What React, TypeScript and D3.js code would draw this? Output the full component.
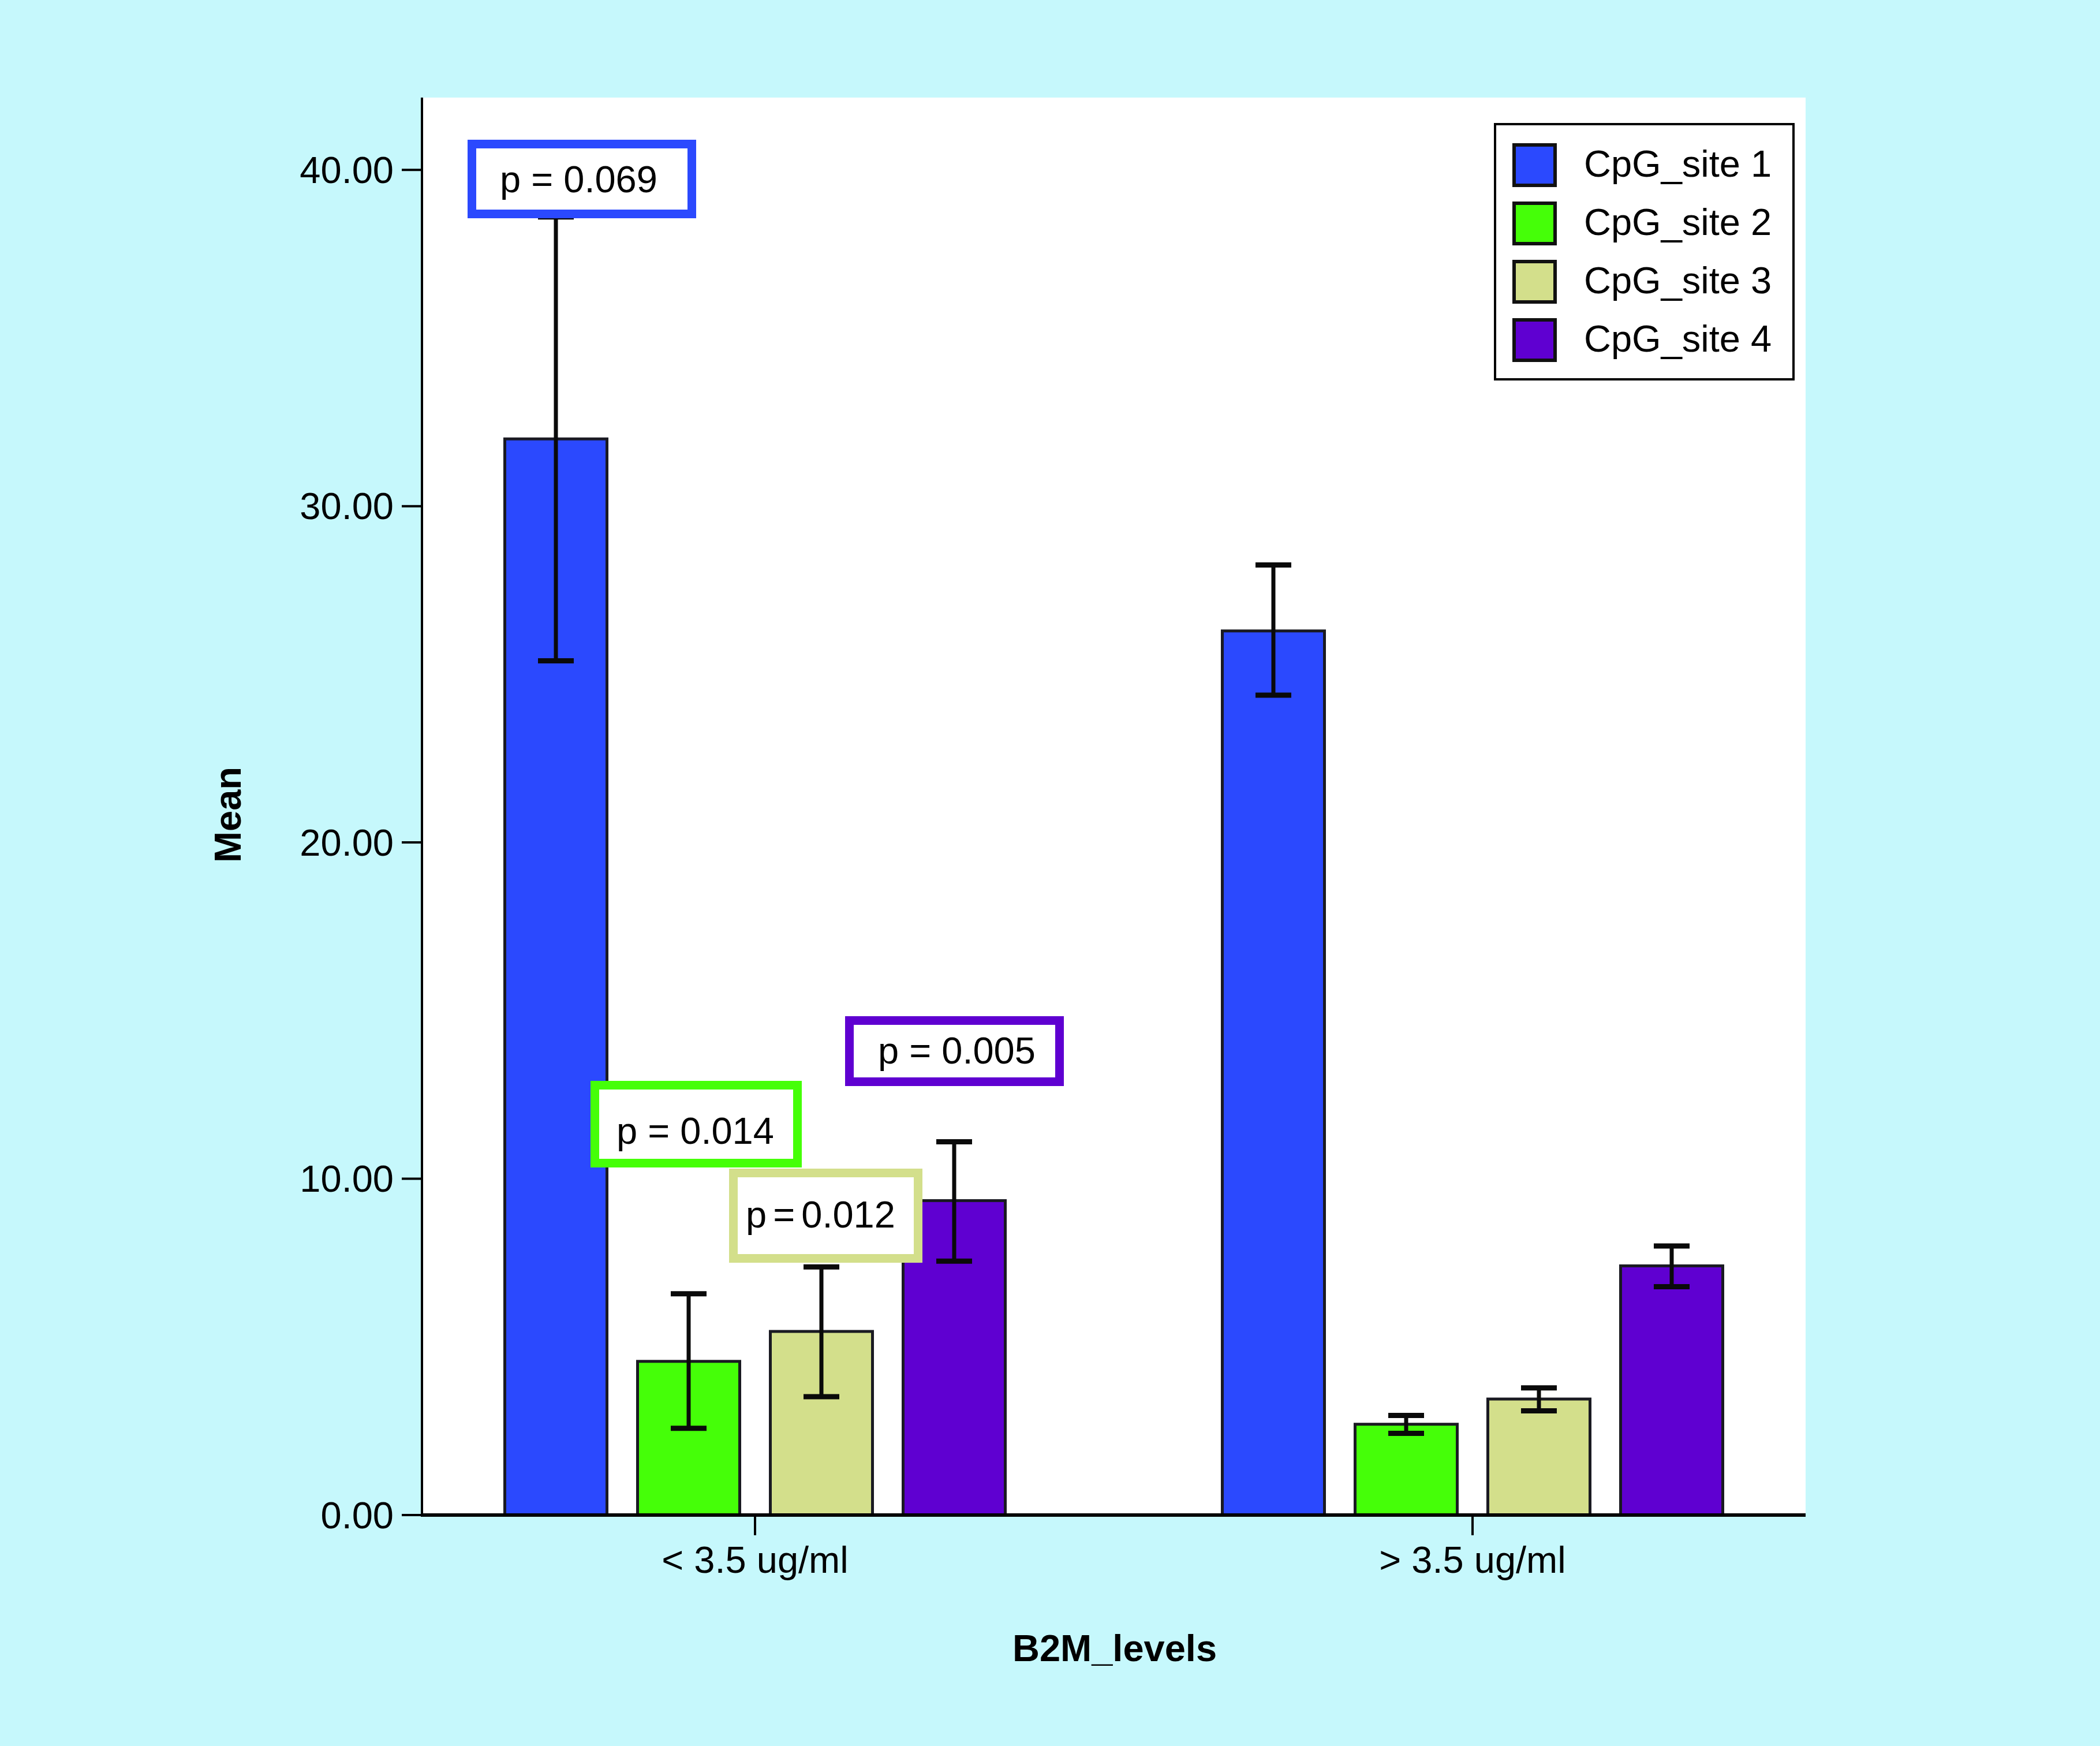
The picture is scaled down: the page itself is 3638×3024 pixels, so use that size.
import React from "react";
import * as d3 from "d3";

// ---------- data ----------
const categories = ["< 3.5 ug/ml", "> 3.5 ug/ml"];
const seriesNames = ["CpG_site 1", "CpG_site 2", "CpG_site 3", "CpG_site 4"];
const seriesColors = ["#2b49fe", "#45ff08", "#d3df8b", "#5f00d1"];

const site1Mean = [32.0, 26.29];
const site2Mean = [4.57, 2.7];
const site3Mean = [5.46, 3.45];
const site4Mean = [9.35, 7.41];

const site1Upper = [38.6, 28.25];
const site2Upper = [6.58, 2.96];
const site3Upper = [7.38, 3.78];
const site4Upper = [11.1, 8.0];

const site1Lower = [25.4, 24.38];
const site2Lower = [2.58, 2.43];
const site3Lower = [3.52, 3.1];
const site4Lower = [7.55, 6.79];

const yTicks = [0, 10, 20, 30, 40];
const pValueLabels = ["p = 0.069", "p = 0.014", "p = 0.012", "p = 0.005"];

const xTitle = "B2M_levels";
const yTitle = "Mean";

// ---------- layout ----------
const W = 3638;
const H = 3024;
const plot = { left: 731, right: 3128, top: 169, bottom: 2624 };
const BG = "#c6f8fc";
const FONT = "'Liberation Sans', Arial, Helvetica, sans-serif";
const FS = 65;

// annotation boxes (outer bounds in px) and text anchors
const pBoxes = [
  { x0: 810, y0: 242, x1: 1206, y1: 378, tx: 866, ty: 333, ws: 0 },
  { x0: 1023, y0: 1872, x1: 1389, y1: 2022, tx: 1068, ty: 1981, ws: 0 },
  { x0: 1263, y0: 2024, x1: 1598, y1: 2187, tx: 1292, ty: 2126, ws: -7 },
  { x0: 1464, y0: 1760, x1: 1843, y1: 1881, tx: 1521, ty: 1842, ws: 0 },
];
const pStroke = 15;

export default function App() {
  const means = [site1Mean, site2Mean, site3Mean, site4Mean];
  const uppers = [site1Upper, site2Upper, site3Upper, site4Upper];
  const lowers = [site1Lower, site2Lower, site3Lower, site4Lower];

  const y = d3
    .scaleLinear()
    .domain([0, 42.15])
    .range([plot.bottom, plot.top]);

  const x = d3
    .scalePoint<string>()
    .domain(categories)
    .range([plot.left, plot.right])
    .padding(0.4642);

  const inner = d3
    .scaleBand<string>()
    .domain(seriesNames)
    .range([-460, 460])
    .paddingInner(0.2304)
    .paddingOuter(0.1152);

  const bw = inner.bandwidth();
  const fmt = d3.format(".2f");
  const capHalf = 31;

  const bars: any[] = [];
  const errs: any[] = [];
  categories.forEach((c, ci) => {
    seriesNames.forEach((s, si) => {
      const bx = (x(c) as number) + (inner(s) as number);
      const cx = bx + bw / 2;
      const top = y(means[si][ci]);
      bars.push(
        <rect
          key={`b-${ci}-${si}`}
          x={bx}
          y={top}
          width={bw}
          height={y(0) - top}
          fill={seriesColors[si]}
          stroke="#1a1a22"
          strokeWidth={5}
        />
      );
      const yu = y(uppers[si][ci]);
      const yl = y(lowers[si][ci]);
      errs.push(
        <g key={`e-${ci}-${si}`} stroke="#0a0a0a">
          <line x1={cx} x2={cx} y1={yu} y2={yl} strokeWidth={7} />
          <line x1={cx - capHalf} x2={cx + capHalf} y1={yu} y2={yu} strokeWidth={9} />
          <line x1={cx - capHalf} x2={cx + capHalf} y1={yl} y2={yl} strokeWidth={9} />
        </g>
      );
    });
  });

  const legend = { x0: 2590, y0: 215, x1: 3107, y1: 657 };
  const legendRowY = [248, 349, 450, 551];

  return (
    <svg
      width={W}
      height={H}
      style={{ position: "absolute", left: 0, top: 0, display: "block" }}
      fontFamily={FONT}
    >
      <rect x={0} y={0} width={W} height={H} fill={BG} />
      <rect
        x={plot.left}
        y={plot.top}
        width={plot.right - plot.left}
        height={plot.bottom - plot.top}
        fill="#ffffff"
      />

      {bars}
      {errs}

      {/* y axis */}
      <line x1={plot.left} x2={plot.left} y1={plot.top} y2={plot.bottom} stroke="#000" strokeWidth={4} />
      {yTicks.map((t) => (
        <g key={`yt-${t}`}>
          <line x1={696} x2={plot.left} y1={y(t)} y2={y(t)} stroke="#000" strokeWidth={4} />
          <text
            x={682}
            y={y(t)}
            dy="0.35em"
            textAnchor="end"
            fontSize={FS}
            fill="#000"
          >
            {fmt(t)}
          </text>
        </g>
      ))}

      {/* x axis */}
      <line x1={plot.left - 2} x2={plot.right} y1={plot.bottom} y2={plot.bottom} stroke="#000" strokeWidth={6} />
      {categories.map((c) => (
        <g key={`xt-${c}`}>
          <line x1={x(c)} x2={x(c)} y1={plot.bottom} y2={plot.bottom + 35} stroke="#000" strokeWidth={4} />
          <text x={x(c)} y={2724} textAnchor="middle" fontSize={FS} fill="#000">
            {c}
          </text>
        </g>
      ))}

      {/* axis titles */}
      <text x={1931} y={2877} textAnchor="middle" fontSize={FS} fontWeight="bold" fill="#000">
        {xTitle}
      </text>
      <text
        transform="translate(417,1411) rotate(-90)"
        textAnchor="middle"
        fontSize={FS}
        fontWeight="bold"
        fill="#000"
      >
        {yTitle}
      </text>

      {/* p-value boxes */}
      {pBoxes.map((b, i) => (
        <g key={`p-${i}`}>
          <rect
            x={b.x0 + pStroke / 2}
            y={b.y0 + pStroke / 2}
            width={b.x1 - b.x0 - pStroke}
            height={b.y1 - b.y0 - pStroke}
            fill="#ffffff"
            stroke={seriesColors[i]}
            strokeWidth={pStroke}
          />
          <text x={b.tx} y={b.ty} fontSize={FS} fill="#000" style={{ wordSpacing: `${b.ws}px` }}>
            {pValueLabels[i]}
          </text>
        </g>
      ))}

      {/* legend */}
      <rect
        x={legend.x0}
        y={legend.y0}
        width={legend.x1 - legend.x0}
        height={legend.y1 - legend.y0}
        fill="#ffffff"
        stroke="#000"
        strokeWidth={4}
      />
      {seriesNames.map((s, i) => (
        <g key={`lg-${s}`}>
          <rect
            x={2623}
            y={legendRowY[i] + 3}
            width={71}
            height={70}
            fill={seriesColors[i]}
            stroke="#111"
            strokeWidth={6}
          />
          <text x={2744} y={legendRowY[i] + 58} fontSize={FS} fill="#000">
            {s}
          </text>
        </g>
      ))}
    </svg>
  );
}
